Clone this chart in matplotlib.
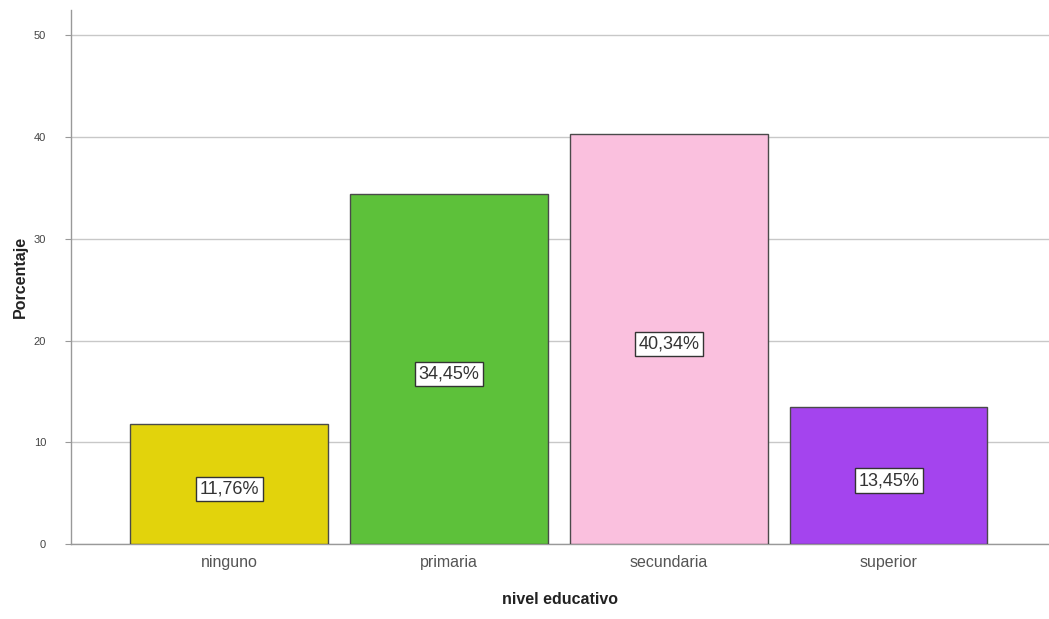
import matplotlib
matplotlib.use("Agg")
import matplotlib.pyplot as plt

plt.rcParams['font.family'] = ['Liberation Sans', 'DejaVu Sans']

categories = ["ninguno", "primaria", "secundaria", "superior"]
values = [11.76, 34.45, 40.34, 13.45]
labels = ["11,76%", "34,45%", "40,34%", "13,45%"]
colors = ["#E2D30C", "#5DC13A", "#FAC0DE", "#A444EE"]
yticks = [0, 10, 20, 30, 40, 50]

fig = plt.figure(figsize=(10.49, 6.19), dpi=100)
ax = fig.add_axes([0.0677, 0.121, 0.9323, 0.863])

ax.bar(range(len(categories)), values, width=0.9, color=colors,
       edgecolor="#4a4a4a", linewidth=1.0, zorder=3)

# value labels in the middle of each bar
for i, (v, lab) in enumerate(zip(values, labels)):
    ax.annotate(lab, (i, v / 2), xytext=(0, -3.5), textcoords="offset points",
                ha="center", va="center", fontsize=13, color="#333333", zorder=4,
                bbox=dict(boxstyle="square,pad=0.2", facecolor="white",
                          edgecolor="#333333", linewidth=1.0))

ax.set_xlim(-0.72, 3.73)
ax.set_ylim(0, 52.5)
ax.set_yticks(yticks)
ax.set_yticklabels([str(t) for t in yticks], fontsize=8, color="#444444")
ax.set_xticks(range(len(categories)))
ax.set_xticklabels(categories, fontsize=11.5, color="#555555")
ax.tick_params(axis="x", length=0, pad=8)
ax.tick_params(axis="y", length=4, color="#999999", pad=14)

ax.yaxis.grid(True, color="#c8c8c8", linewidth=1.0, zorder=0)
for s in ["top", "right"]:
    ax.spines[s].set_visible(False)
for s in ["left", "bottom"]:
    ax.spines[s].set_color("#999999")
    ax.spines[s].set_linewidth(1.0)

ax.set_xlabel("nivel educativo", fontsize=11.5, fontweight="bold",
              color="#222222", labelpad=16)
ax.set_ylabel("Porcentaje", fontsize=11.5, fontweight="bold",
              color="#222222", labelpad=4)

fig.savefig("out.png", dpi=100)
